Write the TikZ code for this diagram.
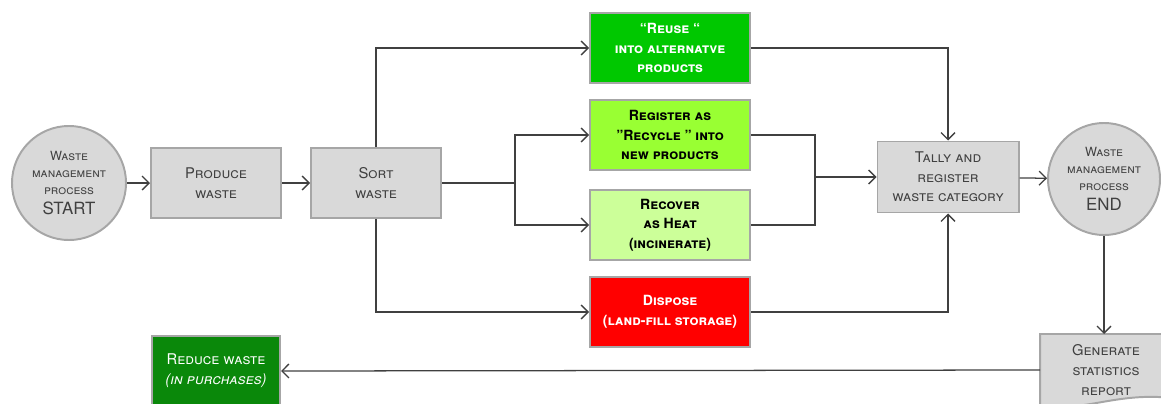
\documentclass[tikz,border=0pt]{standalone}
\usepackage{fontspec}
\setmainfont{TeX Gyre Heros}
\usetikzlibrary{backgrounds}
\usetikzlibrary{arrows,arrows.meta,positioning,calc}

\definecolor{boxgray}{HTML}{D9D9D9}
\definecolor{edgegray}{HTML}{A6A6A6}
\definecolor{linegray}{HTML}{404040}
\definecolor{reusegreen}{HTML}{00C800}
\definecolor{recyclegreen}{HTML}{99FF33}
\definecolor{recovergreen}{HTML}{CCFF99}
\definecolor{reducegreen}{HTML}{0A880A}

\tikzset{
	procbox/.style={draw=edgegray, line width=1.4pt, fill=boxgray, text=linegray,
		minimum width=3.25cm, minimum height=1.75cm, align=center,
		font=\scshape\fontsize{10.5}{14}\selectfont},
	optbox/.style={procbox, minimum width=4cm, text=black,
		font=\bfseries\scshape\fontsize{10}{14}\selectfont},
	termcirc/.style={circle, draw=edgegray, line width=1.4pt, fill=boxgray, text=linegray,
		minimum size=2.85cm, inner sep=0pt, align=center,
		font=\scshape\fontsize{9}{12}\selectfont},
	flow/.style={draw=linegray, line width=0.9pt},
	flowarr/.style={flow, -{Straight Barb[length=5pt, width=10pt]}}
}

\begin{document}
\begin{tikzpicture}[x=0.025cm, y=0.025cm]

	\useasboundingbox (0,0) rectangle (1161,403);

	% main line
	\node[termcirc] (start) at (69,220) {Waste\\management\\process\\[2pt]{\upshape\fontsize{12}{14}\selectfont START}};
	\node[procbox] (produce) at (216,220) {Produce\\waste};
	\node[procbox] (sort) at (376,220) {Sort\\waste};

	% categories
	\node[optbox, fill=reusegreen, text=white] (reuse) at (670,355) {“Reuse “\\into alternatve\\products};
	\node[optbox, fill=recyclegreen] (recycle) at (670,268) {Register as\\"Recycle " into\\new products};
	\node[optbox, fill=recovergreen] (recover) at (670,178) {Recover\\as Heat\\(incinerate)};
	\node[optbox, fill=red, text=white] (dispose) at (670,91) {Dispose\\(land-fill storage)};

	\node[procbox, minimum width=3.525cm, minimum height=1.775cm] (tally) at (948,226) {Tally and\\register\\waste category};
	\node[termcirc, minimum size=2.8cm] (end) at (1104,224) {Waste\\management\\process\\[2pt]{\upshape\fontsize{12}{14}\selectfont END}};

	% report, document shape drawn behind the node
	\node[procbox, draw=none, fill=none] (gen) at (1106,33) {Generate\\statistics\\report};
	\begin{scope}[on background layer]
		\draw[draw=edgegray, line width=1.4pt, fill=boxgray] (gen.north west) -- (gen.north east)
			-- ($(gen.south east)+(0,8)$) .. controls ($(gen.south)+(10,14)$) and ($(gen.south)+(-20,-6)$) .. (gen.south west) -- cycle;
	\end{scope}

	\node[procbox, fill=reducegreen, text=white, minimum width=3.2cm] (reduce) at (216,32) {Reduce waste\\\itshape(in purchases)};

	% connectors
	\draw[flowarr] (start) -- (produce);
	\draw[flowarr] (produce) -- (sort);

	\draw[flowarr] (sort.north) |- (reuse.west);
	\draw[flowarr] (sort.south) |- (dispose.west);
	\draw[flow] (sort.east) -- ++(73,0) coordinate (split);
	\foreach \dest in {recycle, recover}
		\draw[flowarr] (split) |- (\dest.west);

	\draw[flowarr] (reuse.east) -| (tally.north);
	\draw[flowarr] (dispose.east) -| (tally.south);
	\coordinate (join) at (815,226);
	\draw[flow] (recycle.east) -| (join) |- (recover.east);
	\draw[flowarr] (join) -- (tally.west);

	\draw[flowarr] (tally) -- (end);
	\draw[flowarr] (end.south) -- (end.south |- gen.north);
	\draw[flowarr] (gen.west) -- (reduce.east);

\end{tikzpicture}
\end{document}
